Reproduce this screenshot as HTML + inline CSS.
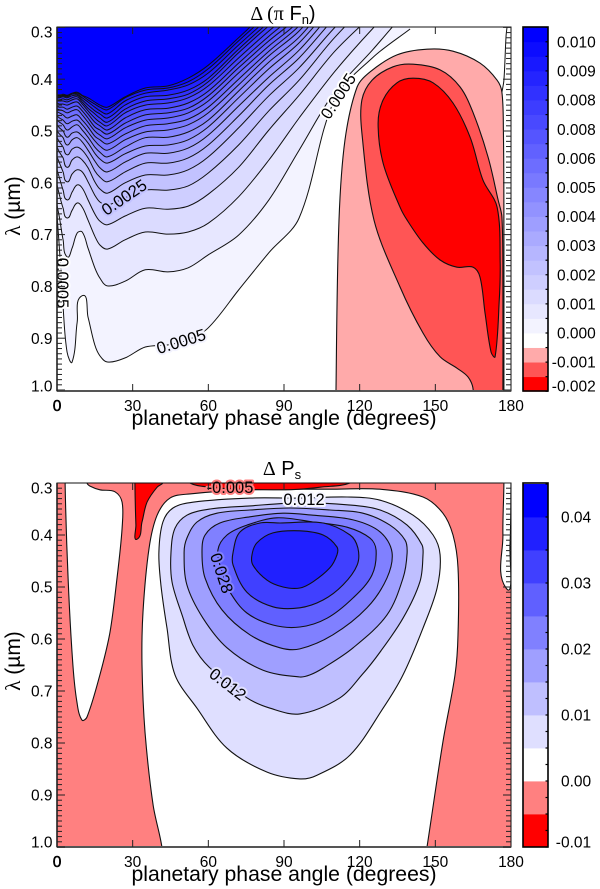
<!DOCTYPE html>
<html>
<head>
<meta charset="utf-8">
<title>Delta flux and polarization contour maps</title>
<style>
html,body{margin:0;padding:0;background:#fff;overflow:hidden;width:600px;height:889px;}
svg{display:block;font-family:"Liberation Sans",sans-serif;overflow:hidden;}
.serif{font-family:"Liberation Serif",serif;}
</style>
</head>
<body>
<svg id="chart" xmlns="http://www.w3.org/2000/svg" width="600" height="889" viewBox="0 0 600 889">
  <defs>
    <clipPath id="clipA"><rect x="57" y="27" width="454" height="364"/></clipPath>
    <clipPath id="clipB"><rect x="57" y="483" width="454" height="364"/></clipPath>
  </defs>
  <g id="panelA"></g>
  <g id="panelB"></g>
  <text x="283" y="20" text-anchor="middle" font-size="20"><tspan class="serif">Δ (π</tspan> F<tspan dy="4" font-size="13">n</tspan><tspan dy="-4">)</tspan></text>
  <text x="282" y="475" text-anchor="middle" font-size="20"><tspan class="serif">Δ</tspan> P<tspan dy="4" font-size="13">s</tspan></text>
  <text x="284" y="425" text-anchor="middle" font-size="21.2">planetary phase angle (degrees)</text>
  <text x="284" y="881" text-anchor="middle" font-size="21.2">planetary phase angle (degrees)</text>
  <text transform="translate(20,206) rotate(-90)" text-anchor="middle" font-size="21"><tspan class="serif">λ</tspan> (µm)</text>
  <text transform="translate(20,661) rotate(-90)" text-anchor="middle" font-size="21"><tspan class="serif">λ</tspan> (µm)</text>
</svg>
<script>
/* shared axes */
const phaseTicks = [0, 30, 60, 90, 120, 150, 180];
const lambdaTicks = [0.3, 0.4, 0.5, 0.6, 0.7, 0.8, 0.9, 1.0];
const lambdaTickText = ["0.3", "0.4", "0.5", "0.6", "0.7", "0.8", "0.9", "1.0"];

/* flux panel: wavelength of each positive contour, sampled at these phase angles */
const fluxPhaseGrid = [0,1,2.4,4,6,8,10,12.3,15,17,20,27,35,44,52,60,72,84,96,110,125,140];
const fluxContour1 = [.662,.730,.840,.927,.946,.869,.818,.859,.913,.934,.946,.938,.917,.913,.903,.880,.807,.735,.668,.440,.359,.303];
const fluxContour2 = [.643,.668,.710,.743,.726,.697,.695,.726,.764,.784,.799,.790,.768,.772,.764,.739,.701,.633,.537,.425,.344,.259];
const fluxContour3 = [.604,.624,.649,.668,.653,.639,.647,.672,.703,.720,.728,.710,.695,.699,.695,.678,.627,.556,.475,.386,.303,.228];
const fluxContour4 = [.575,.591,.614,.633,.618,.604,.610,.633,.660,.674,.681,.664,.649,.651,.645,.622,.570,.498,.431,.347,.276,.209];
const fluxContour5 = [.550,.562,.579,.598,.583,.575,.579,.598,.624,.637,.643,.629,.614,.614,.606,.581,.527,.461,.402,.320,.247,.189];
const fluxContour6 = [.531,.541,.552,.570,.556,.550,.556,.571,.598,.612,.620,.600,.585,.585,.575,.550,.494,.432,.378,.301,.228,.170];
const fluxContour7 = [.513,.521,.531,.546,.535,.531,.537,.552,.577,.589,.598,.579,.562,.562,.552,.527,.471,.411,.359,.282,.209,.151];
const fluxContour8 = [.500,.506,.513,.527,.517,.513,.521,.537,.558,.571,.579,.560,.543,.543,.533,.508,.452,.396,.344,.266,.189,.131];
const fluxContour9 = [.488,.494,.500,.512,.504,.502,.510,.523,.543,.554,.562,.544,.529,.527,.517,.492,.436,.380,.330,.253,.180,.122];
const fluxContour10 = [.479,.483,.488,.498,.492,.488,.498,.512,.531,.541,.550,.531,.513,.512,.502,.479,.423,.367,.319,.239,.170,.112];
const fluxContour11 = [.471,.475,.479,.486,.481,.479,.488,.502,.519,.529,.537,.517,.502,.498,.488,.465,.411,.355,.307,.228,.160,.102];
const fluxContour12 = [.463,.465,.469,.475,.471,.469,.479,.492,.510,.517,.525,.506,.490,.486,.477,.454,.400,.346,.297,.218,.151,.093];
const fluxContour13 = [.458,.459,.461,.465,.461,.459,.469,.483,.500,.508,.515,.494,.479,.475,.465,.442,.388,.336,.288,.209,.141,.083];
const fluxContour14 = [.452,.454,.454,.458,.454,.452,.461,.475,.492,.498,.506,.485,.469,.465,.456,.432,.378,.326,.278,.199,.131,.073];
const fluxContour15 = [.446,.448,.448,.450,.446,.444,.454,.467,.483,.490,.498,.475,.459,.456,.446,.423,.369,.317,.268,.189,.122,.064];
const fluxContour16 = [.442,.442,.442,.444,.440,.438,.448,.461,.475,.483,.490,.465,.450,.446,.436,.413,.359,.307,.259,.180,.112,.054];
const fluxContour17 = [.440,.440,.438,.440,.436,.434,.444,.456,.467,.475,.483,.458,.442,.438,.429,.405,.349,.297,.249,.170,.102,.044];
const fluxContour18 = [.436,.436,.434,.436,.432,.431,.440,.450,.461,.467,.475,.450,.434,.431,.421,.398,.342,.290,.241,.160,.093,.035];
const fluxContour19 = [.434,.434,.432,.434,.429,.429,.436,.444,.454,.461,.467,.442,.427,.421,.411,.388,.334,.282,.234,.151,.083,.025];
const fluxContour20 = [.432,.432,.431,.432,.427,.427,.432,.440,.448,.454,.459,.436,.421,.417,.405,.380,.326,.274,.226,.141,.073,.015];
const fluxContour21 = [.431,.431,.429,.431,.427,.425,.431,.436,.444,.450,.454,.434,.417,.413,.398,.373,.320,.266,.218,.131,.064,.006];
const fluxContours = [fluxContour1,fluxContour2,fluxContour3,fluxContour4,fluxContour5,fluxContour6,fluxContour7,fluxContour8,fluxContour9,fluxContour10,fluxContour11,fluxContour12,fluxContour13,fluxContour14,fluxContour15,fluxContour16,fluxContour17,fluxContour18,fluxContour19,fluxContour20,fluxContour21];

/* flux panel: negative regions as [phase, wavelength]; boundary runs past the axis where it meets an edge */
const fluxNeg1 = [[110.2,1.25],[110.6,1.0],[111.8,.672],[114.2,.517],[119,.415],[124.1,.386],[134.8,.353],[146.7,.342],[157,.346],[167.7,.369],[174.5,.402],[176.4,.425],[177,.5],[177.2,.7],[177.2,1.0],[177.2,1.25]];
const fluxNeg2 = [[167,1.25],[165,1.0],[163,.975],[158.6,.958],[151.9,.936],[145.1,.89],[136,.801],[125.7,.672],[120.9,.504],[120.9,.44],[124.9,.402],[133.2,.376],[141.2,.371],[151.9,.382],[159.8,.415],[165,.465],[170.9,.55],[174.9,.633],[176.4,.666],[176.8,.8],[176.8,1.0],[176.8,1.25]];
const fluxNeg3 = [[127.3,.485],[129.3,.44],[134.8,.407],[141.2,.398],[149.1,.407],[157,.446],[163.8,.512],[168.9,.595],[174.5,.647],[175.7,.755],[175.3,.832],[173.7,.936],[172.1,.927],[169.7,.851],[167.7,.782],[165,.763],[158.6,.763],[151.9,.749],[145.1,.716],[138.8,.672],[136,.647],[129.3,.562]];
const fluxSpur = [[176.4,.425],[177.2,.402],[178,.319],[178.4,.3]];

/* flux colour bar */
const fluxBarLevels = [-.002,-.0015,-.001,-.0005,0,.0005,.001,.0015,.002,.0025,.003,.0035,.004,.0045,.005,.0055,.006,.0065,.007,.0075,.008,.0085,.009,.0095,.01,.0105];
const fluxBarTicks = [.010,.009,.008,.007,.006,.005,.004,.003,.002,.001,0,-.001,-.002];
const fluxBarText = ["0.010","0.009","0.008","0.008","0.006","0.005","0.004","0.003","0.002","0.001","0.000","-0.001","-0.002"];

/* polarization panel: closed contours as [phase, wavelength] */
const polB = [[46.8,.669],[43.6,.579],[41.2,.496],[40.4,.433],[42,.375],[46,.348],[53.9,.337],[76.5,.329],[95.6,.329],[115,.327],[128.1,.333],[141.2,.362],[149.1,.4],[151.9,.438],[150.7,.502],[145.1,.579],[137.2,.669],[129.3,.733],[116.2,.823],[103.1,.862],[96.3,.869],[83.3,.856],[67.4,.81],[55.5,.733]];
const polC = [[60.3,.654],[53.9,.612],[49.6,.554],[45.6,.49],[45.2,.433],[46.8,.387],[51.5,.362],[60.7,.35],[76.5,.344],[96.3,.338],[115,.342],[128.1,.352],[138.8,.381],[144.7,.419],[145.1,.438],[143.9,.49],[137.2,.56],[128.1,.625],[120.9,.669],[112.2,.713],[96.3,.744],[84.5,.733],[75.3,.713]];
const polD = [[96.3,.673],[100.3,.669],[105.5,.656],[117.4,.617],[130.8,.554],[137.2,.483],[138.8,.435],[138,.41],[132,.381],[121.3,.358],[108.2,.352],[92.4,.348],[76.5,.352],[63.4,.358],[55.5,.375],[51.5,.406],[50.4,.433],[51.5,.496],[57.9,.56],[67.4,.617],[81.7,.66]];
const polE = [[57.5,.433],[58.7,.483],[65.4,.544],[76.5,.592],[88.4,.617],[96.3,.619],[109.4,.592],[122.9,.54],[130.8,.483],[132.8,.433],[128.1,.394],[117.4,.371],[101.5,.362],[89.6,.358],[76.5,.365],[64.6,.377],[58.7,.4]];
const polF = [[63.8,.429],[65.4,.471],[68.6,.51],[75.3,.55],[85.6,.573],[96.3,.577],[107.1,.56],[117.4,.521],[124.9,.477],[126.5,.429],[124.1,.406],[115,.385],[101.5,.375],[87.2,.367],[75.3,.381],[67.4,.4]];
const polG = [[69.8,.433],[69.8,.458],[75.3,.51],[85.6,.538],[96.3,.54],[105.5,.525],[113.4,.496],[119,.458],[119.3,.425],[116.2,.4],[105.5,.377],[88.4,.377],[80.5,.377],[72.6,.394]];
const polH = [[77.3,.438],[77.7,.458],[83.3,.487],[89.6,.5],[96.3,.502],[101.5,.49],[108.2,.463],[111,.438],[111,.423],[105.5,.4],[96.3,.392],[85.6,.396],[79.3,.415]];
const polBlueContours = [polB,polC,polD,polE,polF,polG,polH];
const polWhiteMain = [[42.2,1.05],[41.6,1.0],[38.1,.919],[34.9,.779],[33.7,.65],[34.1,.548],[36.5,.425],[39.7,.362],[44.8,.329],[52.7,.321],[76.5,.313],[108.2,.312],[128.1,.312],[145.1,.327],[153,.358],[157,.4],[159,.463],[159,.592],[157.8,.669],[153,.798],[146.7,1.0],[145,1.05]];
const polWhiteLeft = [[3,.15],[3.2,.3],[4.4,.483],[6.3,.65],[7.9,.721],[9.9,.756],[11.9,.75],[17,.669],[21,.587],[23.8,.483],[25.8,.387],[25.8,.337],[23,.317],[17,.313],[13.1,.306],[11.9,.3],[9,.2]];
const polWhiteRight = [[177.3,.15],[177.2,.3],[176.8,.4],[178,.502],[179.6,.419],[180,.3],[180.5,.15]];
const polRedWedge = [[30.8,.15],[30.9,.3],[31.3,.381],[31.7,.408],[33.7,.375],[35.7,.337],[39.7,.308],[42,.3],[46,.27]];
const polRedStrip = [[50,.28],[52.7,.3],[60.7,.308],[72.6,.312],[88.4,.313],[96.3,.312],[104.3,.308],[116.2,.3],[119,.28]];

/* polarization colour bar */
const polBarLevels = [-.01,-.005,0,.005,.01,.015,.02,.025,.03,.035,.04,.045];
const polBarMinor = [-.0075,-.0025,.0025,.0075,.0125,.0175,.0225];
const polBarTicks = [.04,.03,.02,.01,0,-.01];
const polBarText = ["0.04","0.03","0.02","0.01","0.00","-0.01"];

const NS = "http://www.w3.org/2000/svg";
const LEFT = 57, RIGHT = 511, BARL = 523, BARR = 548;

function xScale(phase){ return LEFT + phase * (RIGHT - LEFT) / 180; }
function mk(tag, attrs, parent){
  const e = document.createElementNS(NS, tag);
  for (const k in attrs) e.setAttribute(k, attrs[k]);
  parent.appendChild(e);
  return e;
}
function blueRamp(k, n){
  const v = Math.round(255 * (1 - k / n));
  return "rgb(" + v + "," + v + ",255)";
}
function unitTangent(a, b){
  const dx = b[0] - a[0], dy = b[1] - a[1];
  const len = Math.hypot(dx, dy) || 1;
  return [dx / len, dy / len];
}
function smoothPath(pts, closed){
  const n = pts.length;
  let d = "M" + pts[0][0].toFixed(1) + " " + pts[0][1].toFixed(1);
  const last = closed ? n : n - 1;
  for (let i = 0; i < last; i++){
    const p0 = closed ? pts[(i - 1 + n) % n] : pts[Math.max(i - 1, 0)];
    const p1 = pts[i % n];
    const p2 = pts[(i + 1) % n];
    const p3 = closed ? pts[(i + 2) % n] : pts[Math.min(i + 2, n - 1)];
    const seg = Math.hypot(p2[0] - p1[0], p2[1] - p1[1]) / 3;
    const t1 = unitTangent(p0, p2), t2 = unitTangent(p1, p3);
    d += "C" + (p1[0] + t1[0] * seg).toFixed(1) + " " + (p1[1] + t1[1] * seg).toFixed(1) + " "
      + (p2[0] - t2[0] * seg).toFixed(1) + " " + (p2[1] - t2[1] * seg).toFixed(1) + " "
      + p2[0].toFixed(1) + " " + p2[1].toFixed(1);
  }
  return closed ? d + "Z" : d;
}
function region(parent, data, yScale, fill, name){
  const pts = data.map(function(p){ return [xScale(p[0]), yScale(p[1])]; });
  const el = mk("path", {d: smoothPath(pts, true), fill: fill, stroke: "#111", "stroke-width": 1.1, "stroke-linejoin": "round"}, parent);
  
  
  return el;
}
function drawAxes(panel, top, bottom, yScale, prefix){
  const frame = mk("rect", {x: LEFT, y: top, width: RIGHT - LEFT, height: bottom - top, fill: "none", stroke: "#111", "stroke-width": 1}, panel);
  
  
  const base = mk("line", {x1: LEFT, x2: RIGHT, y1: bottom, y2: bottom, stroke: "#555", "stroke-width": 2}, panel);
  
  
  const leftAxis = mk("line", {x1: LEFT, x2: LEFT, y1: top, y2: bottom, stroke: "#222", "stroke-width": 1.6}, panel);
  
  
  phaseTicks.forEach(function(v, i){
    const x = xScale(v);
    if (i > 0 && i < phaseTicks.length - 1){
      const t1 = mk("line", {x1: x, x2: x, y1: bottom, y2: bottom - 7, stroke: "#222", "stroke-width": 1}, panel);
      
      
      const t2 = mk("line", {x1: x, x2: x, y1: top, y2: top + 7, stroke: "#222", "stroke-width": 1}, panel);
      
      
    }
    const label = mk("text", {x: x, y: bottom + 20, "text-anchor": "middle", "font-size": 15.5}, panel);
    
    
    if (v === 0){ label.setAttribute("stroke", "#000"); label.setAttribute("stroke-width", ".5"); }
    label.textContent = String(v);
  });
  lambdaTicks.forEach(function(v, i){
    const y = yScale(v);
    [LEFT, RIGHT].forEach(function(ax){
      const dir = ax === LEFT ? 1 : -1;
      const major = mk("line", {x1: ax, x2: ax + dir * 8, y1: y, y2: y, stroke: "#222", "stroke-width": 1}, panel);
      
      
      if (i < lambdaTicks.length - 1){
        for (let m = 1; m < 10; m++){
          const ym = yScale(v + m * 0.01);
          const minor = mk("line", {x1: ax, x2: ax + dir * 5, y1: ym, y2: ym, stroke: "#222", "stroke-width": 1}, panel);
          
          
        }
      }
    });
    const label = mk("text", {x: 52.5, y: Math.min(Math.max(y, top + 5), bottom - 5) + 5.6, "text-anchor": "end", "font-size": 15.5}, panel);
    
    
    label.textContent = lambdaTickText[i];
  });
}
function drawBar(panel, top, bottom, levels, colorAt, barY, minorValues, tickVals, tickText, labelX, prefix){
  for (let i = 0; i < levels.length - 1; i++){
    const y0 = barY(levels[i + 1]), y1 = barY(levels[i]);
    const band = mk("rect", {x: BARL, y: y0, width: BARR - BARL, height: y1 - y0 + 0.4, fill: colorAt(i)}, panel);
    
    
  }
  const outline = mk("rect", {x: BARL, y: top, width: BARR - BARL, height: bottom - top, fill: "none", stroke: "#000", "stroke-width": 1.6}, panel);
  
  
  levels.concat(minorValues).forEach(function(v){
    const y = barY(v);
    const tick = mk("line", {x1: BARR - 2.5, x2: BARR, y1: y, y2: y, stroke: "#000", "stroke-width": 1.2}, panel);
    
    
  });
  tickVals.forEach(function(v, i){
    const txt = tickText[i];
    const label = mk("text", {x: labelX - (txt.charAt(0) === "-" ? 5.2 : 0), y: Math.min(barY(v), bottom - 5) + 5.6, "font-size": 15.5}, panel);
    
    
    label.textContent = txt;
  });
}
function contourLabel(panel, txt, cx, cy, angle, halo, name){
  const el = mk("text", {transform: "translate(" + cx + "," + cy + ") rotate(" + angle + ")", "text-anchor": "middle", "font-size": 16.5, y: 6, fill: "#000", stroke: halo, "stroke-width": 4, "paint-order": "stroke", "stroke-linejoin": "round"}, panel);
  
  
  el.textContent = txt;
  return el;
}

/* ---------- flux panel ---------- */
(function(){
  const panel = document.getElementById("panelA");
  const top = 27, bottom = 391;
  const yScale = function(l){ return 27.4 + (l - 0.3) * 518; };
  const g = mk("g", {"clip-path": "url(#clipA)"}, panel);
  
  
  const bg = mk("rect", {x: LEFT, y: top, width: RIGHT - LEFT, height: bottom - top, fill: "#fff"}, g);
  
  
  const count = fluxContours.length;
  fluxContours.forEach(function(level, i){
    const pts = level.map(function(l, j){ return [xScale(fluxPhaseGrid[j]), yScale(l)]; });
    const line = smoothPath(pts, false);
    const lastX = pts[pts.length - 1][0].toFixed(1);
    const fillEl = mk("path", {d: line + "L" + lastX + " -300L" + LEFT + " -300Z", fill: blueRamp(i + 1, count)}, g);
    
    
  });
  fluxContours.forEach(function(level){
    const pts = level.map(function(l, j){ return [xScale(fluxPhaseGrid[j]), yScale(l)]; });
    const strokeEl = mk("path", {d: smoothPath(pts, false), fill: "none", stroke: "#111", "stroke-width": 1}, g);
    
    
  });
  region(g, fluxNeg1, yScale, "#ffaaaa", "flux-negative-region-1");
  region(g, fluxNeg2, yScale, "#ff5555", "flux-negative-region-2");
  region(g, fluxNeg3, yScale, "#ff0000", "flux-negative-region-3");
  const spur = mk("path", {d: smoothPath(fluxSpur.map(function(p){ return [xScale(p[0]), yScale(p[1])]; }), false), fill: "none", stroke: "#111", "stroke-width": 1}, g);
  
  
  contourLabel(panel, "0.0025", 124, 197, -34, blueRamp(5, 21), "flux-contour-label-0025");
  contourLabel(panel, "0.0005", 181, 341, -17, blueRamp(1, 21), "flux-contour-label-0005-lower");
  contourLabel(panel, "0.0005", 338, 96, -57, "#fff", "flux-contour-label-0005-upper");
  contourLabel(panel, "0.0005", 63, 283, 90, "#fff", "flux-contour-label-0005-left");
  drawAxes(panel, top, bottom, yScale, "flux");
  const barY = function(v){ return 333 - v * 29120; };
  drawBar(panel, top, bottom, fluxBarLevels, function(i){
    const reds = ["#ff0000", "#ff5555", "#ffaaaa", "#ffffff"];
    return i < 4 ? reds[i] : blueRamp(i - 3, 21);
  }, barY, [], fluxBarTicks, fluxBarText, 557, "flux");
})();

/* ---------- polarization panel ---------- */
(function(){
  const panel = document.getElementById("panelB");
  const top = 483, bottom = 847;
  const yScale = function(l){ return 483 + (l - 0.3) * 520; };
  const g = mk("g", {"clip-path": "url(#clipB)"}, panel);
  
  
  const bg = mk("rect", {x: LEFT, y: top, width: RIGHT - LEFT, height: bottom - top, fill: "#ff8080"}, g);
  
  
  region(g, polWhiteMain, yScale, "#fff", "polarization-near-zero-region");
  region(g, polWhiteLeft, yScale, "#fff", "polarization-left-pocket");
  region(g, polWhiteRight, yScale, "#fff", "polarization-right-pocket");
  region(g, polRedWedge, yScale, "#ff0000", "polarization-red-wedge");
  region(g, polRedStrip, yScale, "#ff0000", "polarization-red-strip");
  polBlueContours.forEach(function(c, i){
    region(g, c, yScale, blueRamp(i + 1, 8), "polarization-contour-" + (i + 1));
  });
  contourLabel(panel, "-0.005", 230, 487, 0, "#ff8080", "polarization-contour-label-005");
  contourLabel(panel, "0.012", 304, 499, 0, "#f6f6ff", "polarization-contour-label-012-upper");
  contourLabel(panel, "0.012", 228, 684, 38, blueRamp(1, 8), "polarization-contour-label-012-lower");
  contourLabel(panel, "0.028", 222, 573, 72, blueRamp(4, 8), "polarization-contour-label-028");
  drawAxes(panel, top, bottom, yScale, "polarization");
  const barY = function(v){ return 781 - v * 6600; };
  drawBar(panel, top, bottom, polBarLevels, function(i){
    const reds = ["#ff0000", "#ff8080", "#ffffff"];
    return i < 3 ? reds[i] : blueRamp(i - 2, 8);
  }, barY, polBarMinor, polBarTicks, polBarText, 561, "polarization");
})();
</script>
</body>
</html>
